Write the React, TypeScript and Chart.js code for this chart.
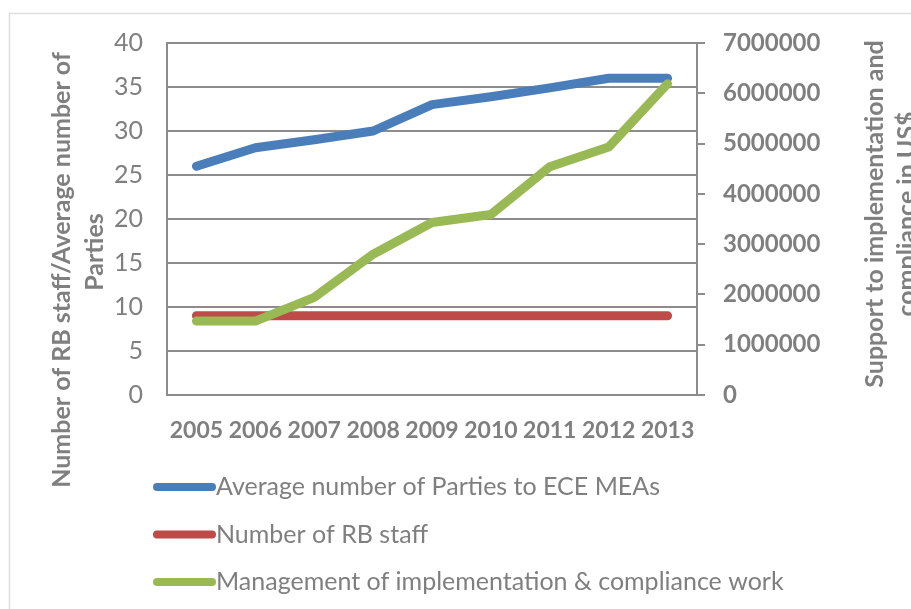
import React, { useEffect, useRef } from "react";
import { Chart, registerables } from "chart.js";

Chart.register(...registerables);

const years = ["2005", "2006", "2007", "2008", "2009", "2010", "2011", "2012", "2013"];
const avgParties = [26, 28.1, 29, 30, 33, 33.9, 34.9, 36, 36];
const rbStaff = [9, 9, 9, 9, 9, 9, 9, 9, 9];
const managementUSD = [1470000, 1470000, 1940000, 2800000, 3430000, 3590000, 4540000, 4930000, 6190000];
const seriesNames = [
  "Average number of Parties to ECE MEAs",
  "Number of RB staff",
  "Management of implementation & compliance work",
];
const leftTitle = ["Number of RB staff/Average number of", "Parties"];
const rightTitle = ["Support to implementation and", "compliance in US$"];

const FONT = "Lato, 'Open Sans', sans-serif";
const GRAY = "#7f7f7f";
const GRID = "#8c8c8c";

const decorPlugin = {
  id: "decor",
  beforeDraw(chart: any) {
    const ctx = chart.ctx;
    ctx.save();
    ctx.strokeStyle = "#dedede";
    ctx.lineWidth = 1.5;
    ctx.strokeRect(9.5, 13.5, 1000, 1000);
    ctx.restore();
  },
  afterDraw(chart: any) {
    const ctx = chart.ctx;
    ctx.save();
    // axis titles
    ctx.fillStyle = GRAY;
    ctx.font = `bold 25px ${FONT}`;
    ctx.textAlign = "center";
    ctx.textBaseline = "middle";
    const drawRot = (text: string, x: number, y: number) => {
      ctx.save();
      ctx.translate(x, y);
      ctx.rotate(-Math.PI / 2);
      ctx.fillText(text, 0, 0);
      ctx.restore();
    };
    drawRot(leftTitle[0], 62, 270);
    drawRot(leftTitle[1], 95, 252);
    drawRot(rightTitle[0], 875, 214);
    drawRot(rightTitle[1], 907, 214);

    // legend
    const ds = chart.data.datasets;
    ctx.font = `25px ${FONT}`;
    ctx.textAlign = "left";
    ctx.textBaseline = "middle";
    for (let i = 0; i < ds.length; i++) {
      const y = 487 + i * 47.5;
      ctx.strokeStyle = ds[i].borderColor;
      ctx.lineWidth = 8;
      ctx.lineCap = "round";
      ctx.beginPath();
      ctx.moveTo(157, y);
      ctx.lineTo(212, y);
      ctx.stroke();
      ctx.fillStyle = GRAY;
      ctx.fillText(ds[i].label, 216, y);
    }
    ctx.restore();
  },
};

export default function App() {
  const ref = useRef<HTMLCanvasElement | null>(null);
  useEffect(() => {
    if (!ref.current) return;
    const lineCommon = {
      borderWidth: 9,
      pointRadius: 0,
      pointHoverRadius: 0,
      tension: 0,
      borderCapStyle: "round" as const,
      borderJoinStyle: "round" as const,
      fill: false,
    };
    const chart = new Chart(ref.current, {
      type: "line",
      data: {
        labels: years,
        datasets: [
          { ...lineCommon, label: seriesNames[0], data: avgParties, borderColor: "#4a7ebb", backgroundColor: "#4a7ebb", yAxisID: "y", order: 2 },
          { ...lineCommon, label: seriesNames[1], data: rbStaff, borderColor: "#be4b48", backgroundColor: "#be4b48", yAxisID: "y", order: 1 },
          { ...lineCommon, label: seriesNames[2], data: managementUSD, borderColor: "#98b954", backgroundColor: "#98b954", yAxisID: "y1", order: 0 },
        ],
      },
      options: {
        animation: false,
        responsive: false,
        maintainAspectRatio: false,
        devicePixelRatio: 1,
        layout: { padding: { top: 43, left: 0, right: 0, bottom: 0 } },
        plugins: { legend: { display: false }, tooltip: { enabled: false }, title: { display: false } },
        scales: {
          x: {
            type: "category",
            offset: true,
            grid: { display: true, drawOnChartArea: false, drawTicks: false },
            border: { display: true, color: GRID, width: 2 },
            ticks: { color: GRAY, font: { family: FONT, size: 23, weight: "bold" }, padding: 22, maxRotation: 0, autoSkip: false },
            afterFit: (s: any) => { s.height = 214; },
          },
          y: {
            position: "left",
            min: 0,
            max: 40,
            ticks: { stepSize: 5, color: GRAY, font: { family: FONT, size: 25 }, padding: 24 },
            grid: { color: GRID, lineWidth: 2, drawTicks: false },
            border: { display: true, color: GRID, width: 2 },
            afterFit: (s: any) => { s.width = 167; },
          },
          y1: {
            position: "right",
            min: 0,
            max: 7000000,
            ticks: {
              stepSize: 1000000,
              color: GRAY,
              font: { family: FONT, size: 24, weight: "bold" },
              padding: 18,
              callback: (v: any) => String(v),
            },
            grid: { drawOnChartArea: false, drawTicks: true, tickLength: 8, color: GRID, lineWidth: 2 },
            border: { display: true, color: GRID, width: 2 },
            afterFit: (s: any) => { s.width = 214; },
          },
        },
      } as any,
      plugins: [decorPlugin],
    });
    return () => chart.destroy();
  }, []);
  return (
    <div style={{ position: "absolute", left: 0, top: 0, width: 911, height: 609, background: "#fff" }}>
      <canvas ref={ref} width={911} height={609} style={{ width: 911, height: 609, display: "block" }} />
    </div>
  );
}
